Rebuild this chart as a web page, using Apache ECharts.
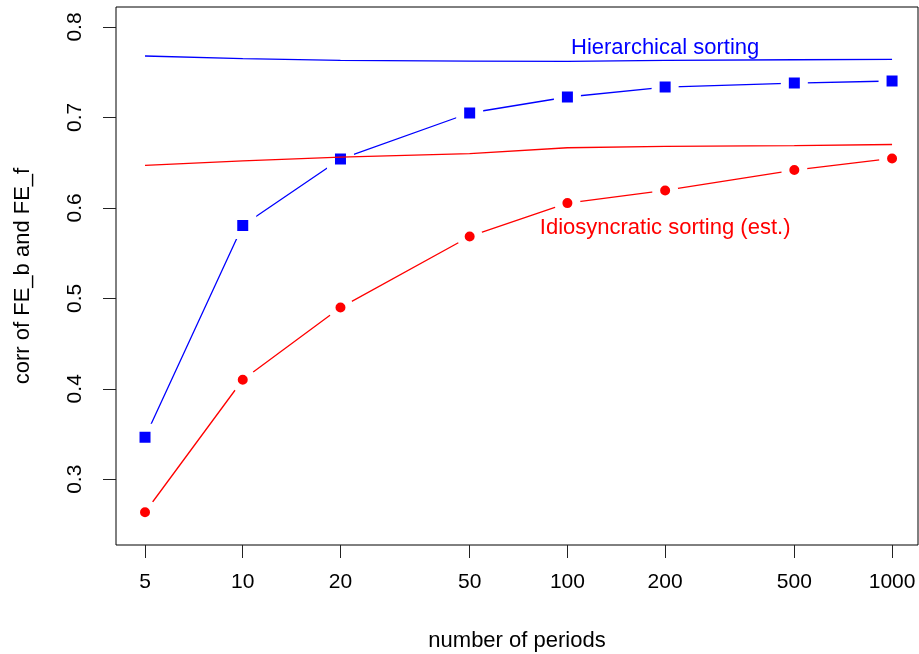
<!DOCTYPE html>
<html>
<head>
<meta charset="utf-8">
<script src="https://cdn.jsdelivr.net/npm/echarts@6/dist/echarts.min.js"></script>
<style>
  html, body { margin: 0; padding: 0; background: #fff; }
  #chart { width: 919px; height: 654px; }
</style>
</head>
<body>
<div id="chart"></div>
<script>
// number of periods (log x axis)
const periods = [5, 10, 20, 50, 100, 200, 500, 1000];
// estimated correlations (points)
const hierEst = [0.3465, 0.5805, 0.654, 0.7049, 0.7226, 0.7336, 0.738, 0.7403];
const idioEst = [0.2635, 0.410, 0.4898, 0.5684, 0.6053, 0.6193, 0.6418, 0.6547];
// reference lines (no markers)
const hierTrue = [0.7679, 0.765, 0.763, 0.7622, 0.762, 0.763, 0.7638, 0.7643];
const idioTrue = [0.6469, 0.652, 0.6562, 0.660, 0.6665, 0.668, 0.6688, 0.6701];
// tick labels
const xTicks = [5, 10, 20, 50, 100, 200, 500, 1000];
const yTicks = [0.3, 0.4, 0.5, 0.6, 0.7, 0.8];

const font = '"Liberation Sans", Arial, sans-serif';
const pairs = function(ys) { return periods.map(function(p, i) { return [p, ys[i]]; }); };

document.addEventListener('DOMContentLoaded', function() {
    const chart = echarts.init(document.getElementById('chart'));
    const option = {
        animation: false,
        backgroundColor: '#fff',
        textStyle: { fontFamily: font },
        grid: {
            left: 116,
            right: 1,
            top: 7,
            bottom: 109,
            outerBoundsMode: 'none',
            containLabel: false,
            show: true,
            borderColor: '#000',
            borderWidth: 1,
            backgroundColor: 'transparent'
        },
        xAxis: {
            type: 'log',
            logBase: 10,
            min: 4.07,
            max: 1202,
            name: 'number of periods',
            nameLocation: 'middle',
            nameGap: 85,
            nameTextStyle: { color: '#000', fontSize: 22, fontFamily: font },
            axisLine: { show: false },
            axisTick: { show: true, length: 13, lineStyle: { color: '#222' }, customValues: xTicks },
            axisLabel: {
                color: '#000', fontSize: 21, fontFamily: font, margin: 27,
                customValues: xTicks,
                formatter: function(v) { return String(v); }
            },
            splitLine: { show: false },
            minorTick: { show: false }
        },
        yAxis: {
            type: 'value',
            min: 0.2273,
            max: 0.8221,
            name: 'corr of FE_b and FE_f',
            nameLocation: 'middle',
            nameRotate: 90,
            nameGap: 82,
            nameTextStyle: { color: '#000', fontSize: 22, fontFamily: font },
            axisLine: { show: false },
            axisTick: { show: true, length: 13, lineStyle: { color: '#222' }, customValues: yTicks },
            axisLabel: {
                color: '#000', fontSize: 21, fontFamily: font, margin: 30, rotate: 90,
                customValues: yTicks,
                formatter: function(v) { return v.toFixed(1); }
            },
            splitLine: { show: false }
        },
        series: [
            {
                name: 'Hierarchical (est.)',
                type: 'line',
                z: 2,
                data: pairs(hierEst),
                symbol: 'rect',
                symbolSize: 19,
                lineStyle: { color: '#0000ff', width: 1.3 },
                itemStyle: { color: '#0000ff', borderColor: '#fff', borderWidth: 8 }
            },
            {
                name: 'Idiosyncratic (est.)',
                type: 'line',
                z: 2,
                data: pairs(idioEst),
                symbol: 'circle',
                symbolSize: 18,
                lineStyle: { color: '#ff0000', width: 1.3 },
                itemStyle: { color: '#ff0000', borderColor: '#fff', borderWidth: 8 }
            },
            {
                name: 'Hierarchical sorting',
                type: 'line',
                z: 3,
                data: pairs(hierTrue),
                showSymbol: false,
                symbol: 'none',
                lineStyle: { color: '#0000ff', width: 1.3 }
            },
            {
                name: 'Idiosyncratic sorting',
                type: 'line',
                z: 3,
                data: pairs(idioTrue),
                showSymbol: false,
                symbol: 'none',
                lineStyle: { color: '#ff0000', width: 1.3 }
            },
            {
                // text annotations placed in data coordinates
                type: 'scatter',
                z: 4,
                symbolSize: 0,
                silent: true,
                itemStyle: { opacity: 1 },
                data: [
                    { value: [200, 0.777], label: { formatter: 'Hierarchical sorting', color: '#0000ff' } },
                    { value: [200, 0.578], label: { formatter: 'Idiosyncratic sorting (est.)', color: '#ff0000' } }
                ],
                label: {
                    show: true,
                    position: 'inside',
                    fontSize: 22,
                    fontFamily: font,
                    opacity: 1,
                    textBorderWidth: 0
                }
            }
        ]
    };
    chart.setOption(option);
});
</script>
</body>
</html>
